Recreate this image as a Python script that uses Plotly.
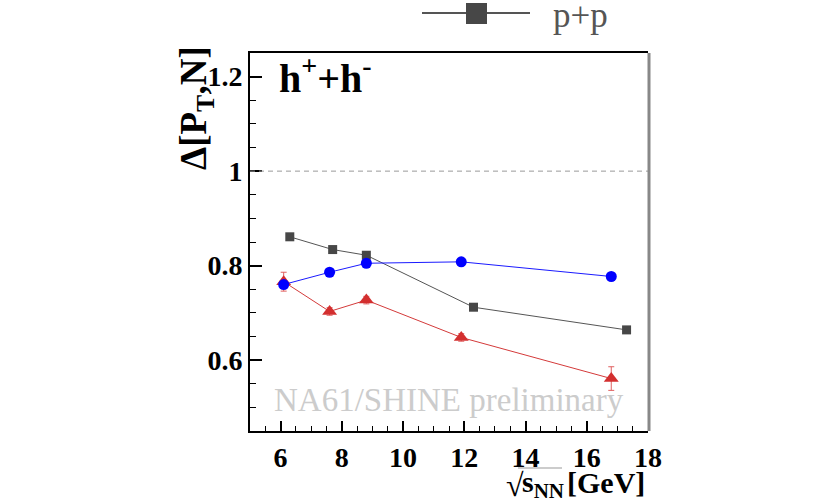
import plotly.graph_objects as go

# ---- data ----
pp_x = [6.3, 7.7, 8.8, 12.3, 17.3]
pp_y = [0.861, 0.834, 0.822, 0.712, 0.664]

blue_x = [6.1, 7.6, 8.8, 11.9, 16.8]
blue_y = [0.760, 0.786, 0.805, 0.808, 0.777]

red_x = [6.1, 7.6, 8.8, 11.9, 16.8]
red_y = [0.766, 0.703, 0.727, 0.648, 0.561]
red_err = [0.020, 0.008, 0.008, 0.008, 0.025]

x_ticks = [6, 8, 10, 12, 14, 16, 18]
y_ticks = [0.6, 0.8, 1.0, 1.2]
y_ticklabels = ["0.6", "0.8", "1", "1.2"]

W, H = 840, 501
L, R, T, B = 250, 648, 53, 431


def px(x):
    return (x - L) / (R - L)


def py(y):
    return (B - y) / (B - T)


SERIF = "Liberation Serif"

fig = go.Figure()

fig.add_trace(go.Scatter(
    x=pp_x, y=pp_y, mode="lines+markers", name="p+p",
    line=dict(color="#555555", width=1),
    marker=dict(symbol="square", size=9, color="#474747"),
    showlegend=False))

fig.add_trace(go.Scatter(
    x=red_x, y=red_y, mode="lines+markers", name="red",
    line=dict(color="#d43a3a", width=1),
    marker=dict(symbol="triangle-up", size=13, color="#d32f2f"),
    error_y=dict(type="data", array=red_err, color="#e06060", thickness=1, width=3),
    showlegend=False))

fig.add_trace(go.Scatter(
    x=blue_x, y=blue_y, mode="lines+markers", name="blue",
    line=dict(color="#1a1aff", width=1),
    marker=dict(symbol="circle", size=11, color="#0000ff"),
    showlegend=False))

shapes = [
    # dashed reference line at 1
    dict(type="line", xref="x domain", yref="y", x0=0, x1=1, y0=1, y1=1,
         line=dict(color="#999999", width=1, dash="5px,4px")),
    # right frame edge (gray)
    dict(type="line", xref="paper", yref="paper", x0=1 + 1 / 398, x1=1 + 1 / 398,
         y0=0, y1=1, line=dict(color="#888888", width=3)),
    # legend glyph
    dict(type="line", xref="paper", yref="paper", x0=px(422), x1=px(530),
         y0=py(13), y1=py(13), line=dict(color="#555555", width=2)),
    dict(type="rect", xref="paper", yref="paper", x0=px(466), x1=px(487),
         y0=py(24), y1=py(3), fillcolor="#474747", line=dict(width=0)),
    # overline of sqrt
    dict(type="line", xref="paper", yref="paper", x0=px(518), x1=px(562),
         y0=py(468), y1=py(468), line=dict(color="#999999", width=1)),
]

annotations = [
    dict(text="p+p", xref="paper", yref="paper", x=px(551), y=py(16),
         xanchor="left", yanchor="middle", showarrow=False,
         font=dict(family=SERIF, size=35, color="#555555")),
    dict(text="<b>h<sup>+</sup>+h<sup>-</sup></b>", xref="paper", yref="paper",
         x=px(277), y=py(76), xanchor="left", yanchor="middle", showarrow=False,
         font=dict(family=SERIF, size=40, color="black")),
    dict(text="NA61/SHINE preliminary", xref="paper", yref="paper",
         x=px(272), y=py(400), xanchor="left", yanchor="middle", showarrow=False,
         font=dict(family=SERIF, size=33, color="#cccccc")),
    dict(text="<b>Δ[P<sub>T</sub>,N]</b>", xref="paper", yref="paper",
         x=px(197), y=py(108), xanchor="center", yanchor="middle", textangle=-90,
         showarrow=False, font=dict(family=SERIF, size=37, color="black")),
    dict(text="√", xref="paper", yref="paper",
         x=px(504), y=py(485), xanchor="left", yanchor="middle", showarrow=False,
         font=dict(family=SERIF, size=32, color="black")),
    dict(text="<b>s<sub>NN</sub></b>", xref="paper", yref="paper",
         x=px(520), y=py(484), xanchor="left", yanchor="middle", showarrow=False,
         font=dict(family=SERIF, size=30, color="black")),
    dict(text="<b>[GeV]</b>", xref="paper", yref="paper",
         x=px(647), y=py(482), xanchor="right", yanchor="middle", showarrow=False,
         font=dict(family=SERIF, size=30, color="black")),
]

fig.update_layout(
    width=W, height=H,
    margin=dict(l=L, r=W - R, t=T, b=H - B, pad=0),
    paper_bgcolor="white", plot_bgcolor="white",
    shapes=shapes, annotations=annotations, showlegend=False,
)

fig.update_xaxes(
    range=[5, 18], tickvals=x_ticks, ticktext=["<b>%d</b>" % v for v in x_ticks],
    ticks="inside", ticklen=10, tickwidth=1.5, tickcolor="black",
    minor=dict(dtick=0.5, tick0=5, ticks="inside", ticklen=5, tickwidth=1, tickcolor="black"),
    showline=True, linecolor="black", linewidth=2, mirror=True,
    showgrid=False, zeroline=False,
    tickfont=dict(family=SERIF, size=28, color="black"),
)
fig.update_yaxes(
    range=[0.45, 1.25], tickvals=y_ticks, ticktext=["<b>%s</b>" % s for s in y_ticklabels],
    ticks="inside", ticklen=12, tickwidth=1.5, tickcolor="black",
    minor=dict(dtick=0.05, tick0=0.45, ticks="inside", ticklen=6, tickwidth=1, tickcolor="black"),
    showline=True, linecolor="black", linewidth=2, mirror=False,
    showgrid=False, zeroline=False,
    tickfont=dict(family=SERIF, size=28, color="black"),
)

fig.write_html("out.html")
